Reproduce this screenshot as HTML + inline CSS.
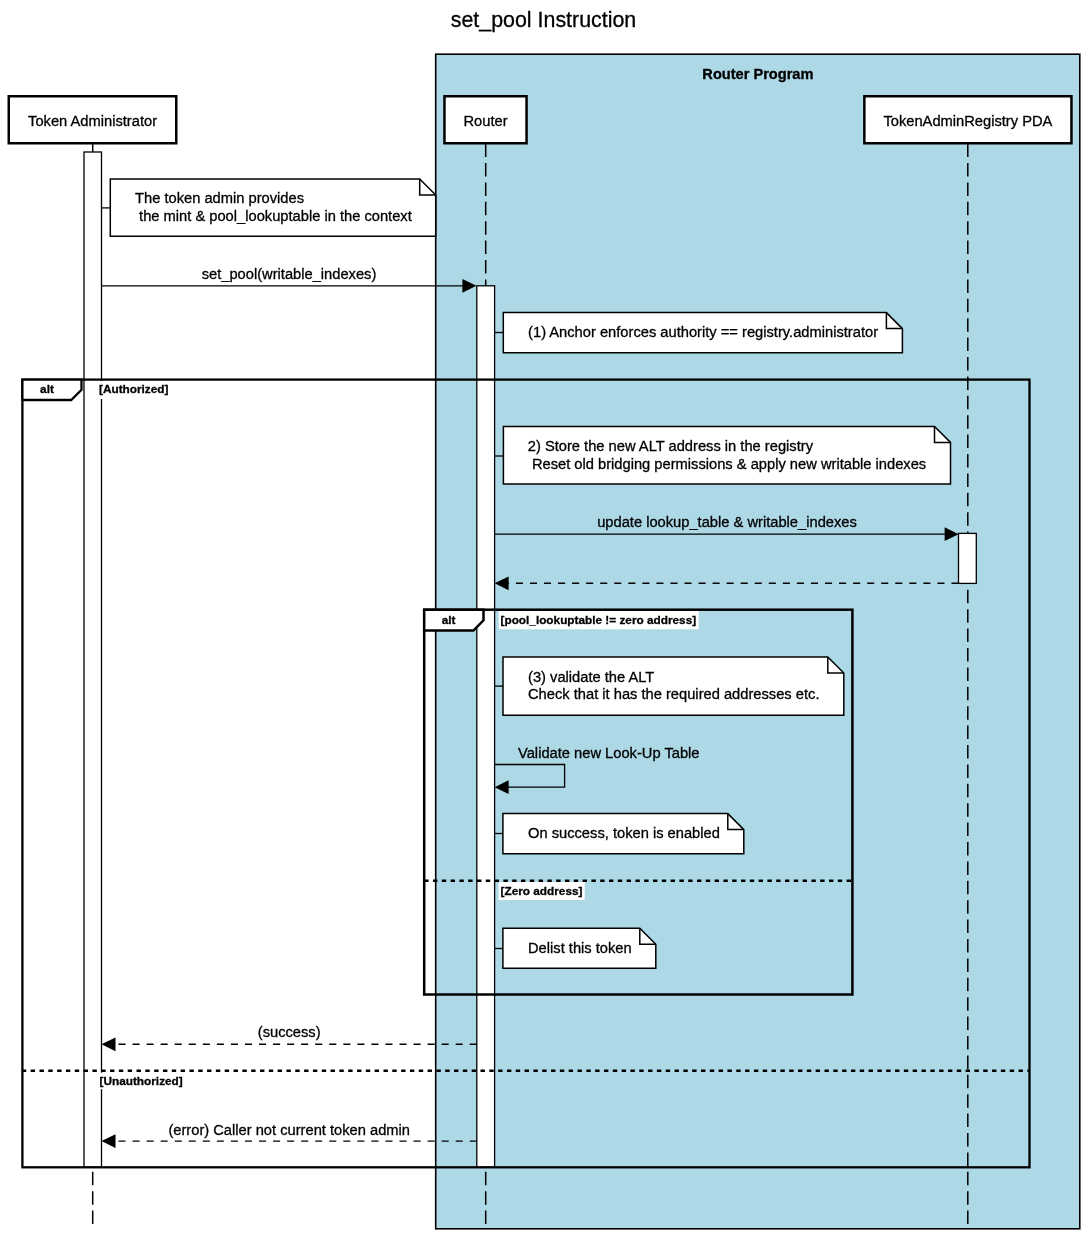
<!DOCTYPE html><html><head><meta charset="utf-8"><style>html,body{margin:0;padding:0;background:#fff;width:1088px;height:1237px;overflow:hidden}svg{display:block;will-change:transform}text{font-family:"Liberation Sans", sans-serif;fill:#000;stroke:#000;stroke-width:0.3px}</style></head><body>
<svg width="1088" height="1237" viewBox="0 0 1088 1237">
<text x="543.5" y="27.3" font-size="21.4" text-anchor="middle" font-weight="normal" xml:space="preserve">set_pool Instruction</text>
<rect x="435.7" y="54.2" width="644.1" height="1174.6" fill="#ADD8E6" stroke="#000" stroke-width="1.6"/>
<text x="757.9" y="78.8" font-size="14.6" text-anchor="middle" font-weight="bold" xml:space="preserve">Router Program</text>
<rect x="8.75" y="96.25" width="167.5" height="47" fill="#fff" stroke="#000" stroke-width="2.5"/>
<text x="92.6" y="125.7" font-size="14.7" text-anchor="middle" font-weight="normal" xml:space="preserve">Token Administrator</text>
<rect x="444.45" y="96.25" width="82.09999999999997" height="47" fill="#fff" stroke="#000" stroke-width="2.5"/>
<text x="485.5" y="125.7" font-size="14.7" text-anchor="middle" font-weight="normal" xml:space="preserve">Router</text>
<rect x="864.35" y="96.25" width="207.10000000000002" height="47" fill="#fff" stroke="#000" stroke-width="2.5"/>
<text x="967.9" y="125.7" font-size="14.7" text-anchor="middle" font-weight="normal" xml:space="preserve">TokenAdminRegistry PDA</text>
<line x1="92.7" y1="143.6" x2="92.7" y2="1224.1" stroke="#000" stroke-width="1.5" stroke-dasharray="13.5 5.9"/>
<line x1="485.7" y1="143.6" x2="485.7" y2="1224.1" stroke="#000" stroke-width="1.5" stroke-dasharray="13.5 5.9"/>
<line x1="967.8" y1="143.6" x2="967.8" y2="1224.1" stroke="#000" stroke-width="1.5" stroke-dasharray="13.5 5.9"/>
<rect x="84.0" y="152.0" width="17.5" height="1015.3" fill="#fff" stroke="#000" stroke-width="1.3"/>
<rect x="476.8" y="285.8" width="17.80000000000001" height="881.5" fill="#fff" stroke="#000" stroke-width="1.3"/>
<rect x="958.5" y="533.4" width="17.799999999999955" height="50.0" fill="#fff" stroke="#000" stroke-width="1.3"/>
<line x1="101.5" y1="207.9" x2="110.3" y2="207.9" stroke="#000" stroke-width="1.3"/>
<path d="M110.3,179.0 H419.7 L435.7,195.0 V236.3 H110.3 Z" fill="#fff" stroke="#000" stroke-width="1.5"/>
<path d="M419.7,179.0 V195.0 H435.7" fill="none" stroke="#000" stroke-width="1.5"/>
<text x="135.0" y="202.7" font-size="14.7" text-anchor="start" font-weight="normal" xml:space="preserve">The token admin provides</text>
<text x="135.0" y="221.0" font-size="14.7" text-anchor="start" font-weight="normal" xml:space="preserve"> the mint &amp; pool_lookuptable in the context</text>
<line x1="101.5" y1="285.8" x2="463" y2="285.8" stroke="#000" stroke-width="1.3"/>
<path d="M476.4,285.8 L462.4,278.90000000000003 L462.4,292.7 Z" fill="#000" stroke="none"/>
<text x="289.0" y="279.3" font-size="14.7" text-anchor="middle" font-weight="normal" xml:space="preserve">set_pool(writable_indexes)</text>
<line x1="494.6" y1="332.5" x2="503.3" y2="332.5" stroke="#000" stroke-width="1.3"/>
<path d="M503.3,312.6 H886.4 L902.4,328.6 V352.8 H503.3 Z" fill="#fff" stroke="#000" stroke-width="1.5"/>
<path d="M886.4,312.6 V328.6 H902.4" fill="none" stroke="#000" stroke-width="1.5"/>
<text x="528.1" y="336.8" font-size="14.7" text-anchor="start" font-weight="normal" xml:space="preserve">(1) Anchor enforces authority == registry.administrator</text>
<rect x="22.4" y="379.6" width="1007.1" height="787.7" fill="none" stroke="#000" stroke-width="2.3"/>
<path d="M22.4,379.6 H81.5 V389.8 L71.2,400 H22.4 Z" fill="#fff" stroke="#000" stroke-width="2.3"/>
<text x="47.0" y="393.0" font-size="11.8" text-anchor="middle" font-weight="bold" xml:space="preserve">alt</text>
<rect x="98.5" y="381" width="72" height="18" fill="#fff"/>
<text x="99.0" y="393.0" font-size="11.8" text-anchor="start" font-weight="bold" xml:space="preserve">[Authorized]</text>
<line x1="494.6" y1="456" x2="503.4" y2="456" stroke="#000" stroke-width="1.3"/>
<path d="M503.4,426.4 H934.5 L950.5,442.4 V484.0 H503.4 Z" fill="#fff" stroke="#000" stroke-width="1.5"/>
<path d="M934.5,426.4 V442.4 H950.5" fill="none" stroke="#000" stroke-width="1.5"/>
<text x="527.8" y="450.9" font-size="14.7" text-anchor="start" font-weight="normal" xml:space="preserve">2) Store the new ALT address in the registry</text>
<text x="527.8" y="468.6" font-size="14.7" text-anchor="start" font-weight="normal" xml:space="preserve"> Reset old bridging permissions &amp; apply new writable indexes</text>
<line x1="494.6" y1="534.2" x2="945" y2="534.2" stroke="#000" stroke-width="1.3"/>
<path d="M958.6,534.2 L944.6,527.3000000000001 L944.6,541.1 Z" fill="#000" stroke="none"/>
<text x="727.0" y="527.3" font-size="14.7" text-anchor="middle" font-weight="normal" xml:space="preserve">update lookup_table &amp; writable_indexes</text>
<line x1="958.5" y1="583.3" x2="508" y2="583.3" stroke="#000" stroke-width="1.4" stroke-dasharray="7.05 7"/>
<path d="M494.6,583.3 L508.6,576.4 L508.6,590.1999999999999 Z" fill="#000" stroke="none"/>
<rect x="424.2" y="609.7" width="428.2" height="384.8" fill="none" stroke="#000" stroke-width="2.5"/>
<path d="M424.2,609.7 H483.5 V620.3 L473.4,630.6 H424.2 Z" fill="#fff" stroke="#000" stroke-width="2.5"/>
<text x="448.6" y="623.7" font-size="11.8" text-anchor="middle" font-weight="bold" xml:space="preserve">alt</text>
<rect x="498.7" y="611" width="200" height="18.3" fill="#fff"/>
<text x="500.5" y="624.2" font-size="11.8" text-anchor="start" font-weight="bold" xml:space="preserve">[pool_lookuptable != zero address]</text>
<line x1="494.6" y1="686.1" x2="503" y2="686.1" stroke="#000" stroke-width="1.3"/>
<path d="M503.0,657.0 H827.8 L843.8,673.0 V715.3 H503.0 Z" fill="#fff" stroke="#000" stroke-width="1.5"/>
<path d="M827.8,657.0 V673.0 H843.8" fill="none" stroke="#000" stroke-width="1.5"/>
<text x="528.0" y="682.1" font-size="14.7" text-anchor="start" font-weight="normal" xml:space="preserve">(3) validate the ALT</text>
<text x="528.0" y="698.5" font-size="14.7" text-anchor="start" font-weight="normal" xml:space="preserve">Check that it has the required addresses etc.</text>
<path d="M494.6,764.5 H564.6 V787.2 H507" fill="none" stroke="#000" stroke-width="1.3"/>
<path d="M494.6,787.2 L508.6,780.3000000000001 L508.6,794.1 Z" fill="#000" stroke="none"/>
<text x="518.0" y="757.9" font-size="14.7" text-anchor="start" font-weight="normal" xml:space="preserve">Validate new Look-Up Table</text>
<line x1="494.6" y1="833.5" x2="502.9" y2="833.5" stroke="#000" stroke-width="1.3"/>
<path d="M502.9,813.6 H727.8 L743.8,829.6 V853.8 H502.9 Z" fill="#fff" stroke="#000" stroke-width="1.5"/>
<path d="M727.8,813.6 V829.6 H743.8" fill="none" stroke="#000" stroke-width="1.5"/>
<text x="528.0" y="837.7" font-size="14.7" text-anchor="start" font-weight="normal" xml:space="preserve">On success, token is enabled</text>
<line x1="424.2" y1="880.7" x2="852.4" y2="880.7" stroke="#000" stroke-width="2.5" stroke-dasharray="4.4 4.4"/>
<rect x="498.7" y="882" width="86" height="18" fill="#fff"/>
<text x="500.5" y="895.0" font-size="11.8" text-anchor="start" font-weight="bold" xml:space="preserve">[Zero address]</text>
<line x1="494.6" y1="948.5" x2="502.9" y2="948.5" stroke="#000" stroke-width="1.3"/>
<path d="M502.9,928.3 H639.8 L655.8,944.3 V968.2 H502.9 Z" fill="#fff" stroke="#000" stroke-width="1.5"/>
<path d="M639.8,928.3 V944.3 H655.8" fill="none" stroke="#000" stroke-width="1.5"/>
<text x="528.0" y="952.8" font-size="14.7" text-anchor="start" font-weight="normal" xml:space="preserve">Delist this token</text>
<line x1="476.8" y1="1044.3" x2="115" y2="1044.3" stroke="#000" stroke-width="1.4" stroke-dasharray="7.05 7"/>
<path d="M101.5,1044.3 L115.5,1037.3999999999999 L115.5,1051.2 Z" fill="#000" stroke="none"/>
<text x="289.2" y="1037.1" font-size="14.7" text-anchor="middle" font-weight="normal" xml:space="preserve">(success)</text>
<line x1="21.85" y1="1070.7" x2="1029.5" y2="1070.7" stroke="#000" stroke-width="2.5" stroke-dasharray="4.41 4.41"/>
<rect x="98.5" y="1072.7" width="85" height="16.5" fill="#fff"/>
<text x="99.5" y="1085.0" font-size="11.8" text-anchor="start" font-weight="bold" xml:space="preserve">[Unauthorized]</text>
<line x1="476.8" y1="1141.1" x2="115" y2="1141.1" stroke="#000" stroke-width="1.4" stroke-dasharray="7.05 7"/>
<path d="M101.5,1141.1 L115.5,1134.1999999999998 L115.5,1148.0 Z" fill="#000" stroke="none"/>
<text x="289.2" y="1134.5" font-size="14.7" text-anchor="middle" font-weight="normal" xml:space="preserve">(error) Caller not current token admin</text>
</svg></body></html>
